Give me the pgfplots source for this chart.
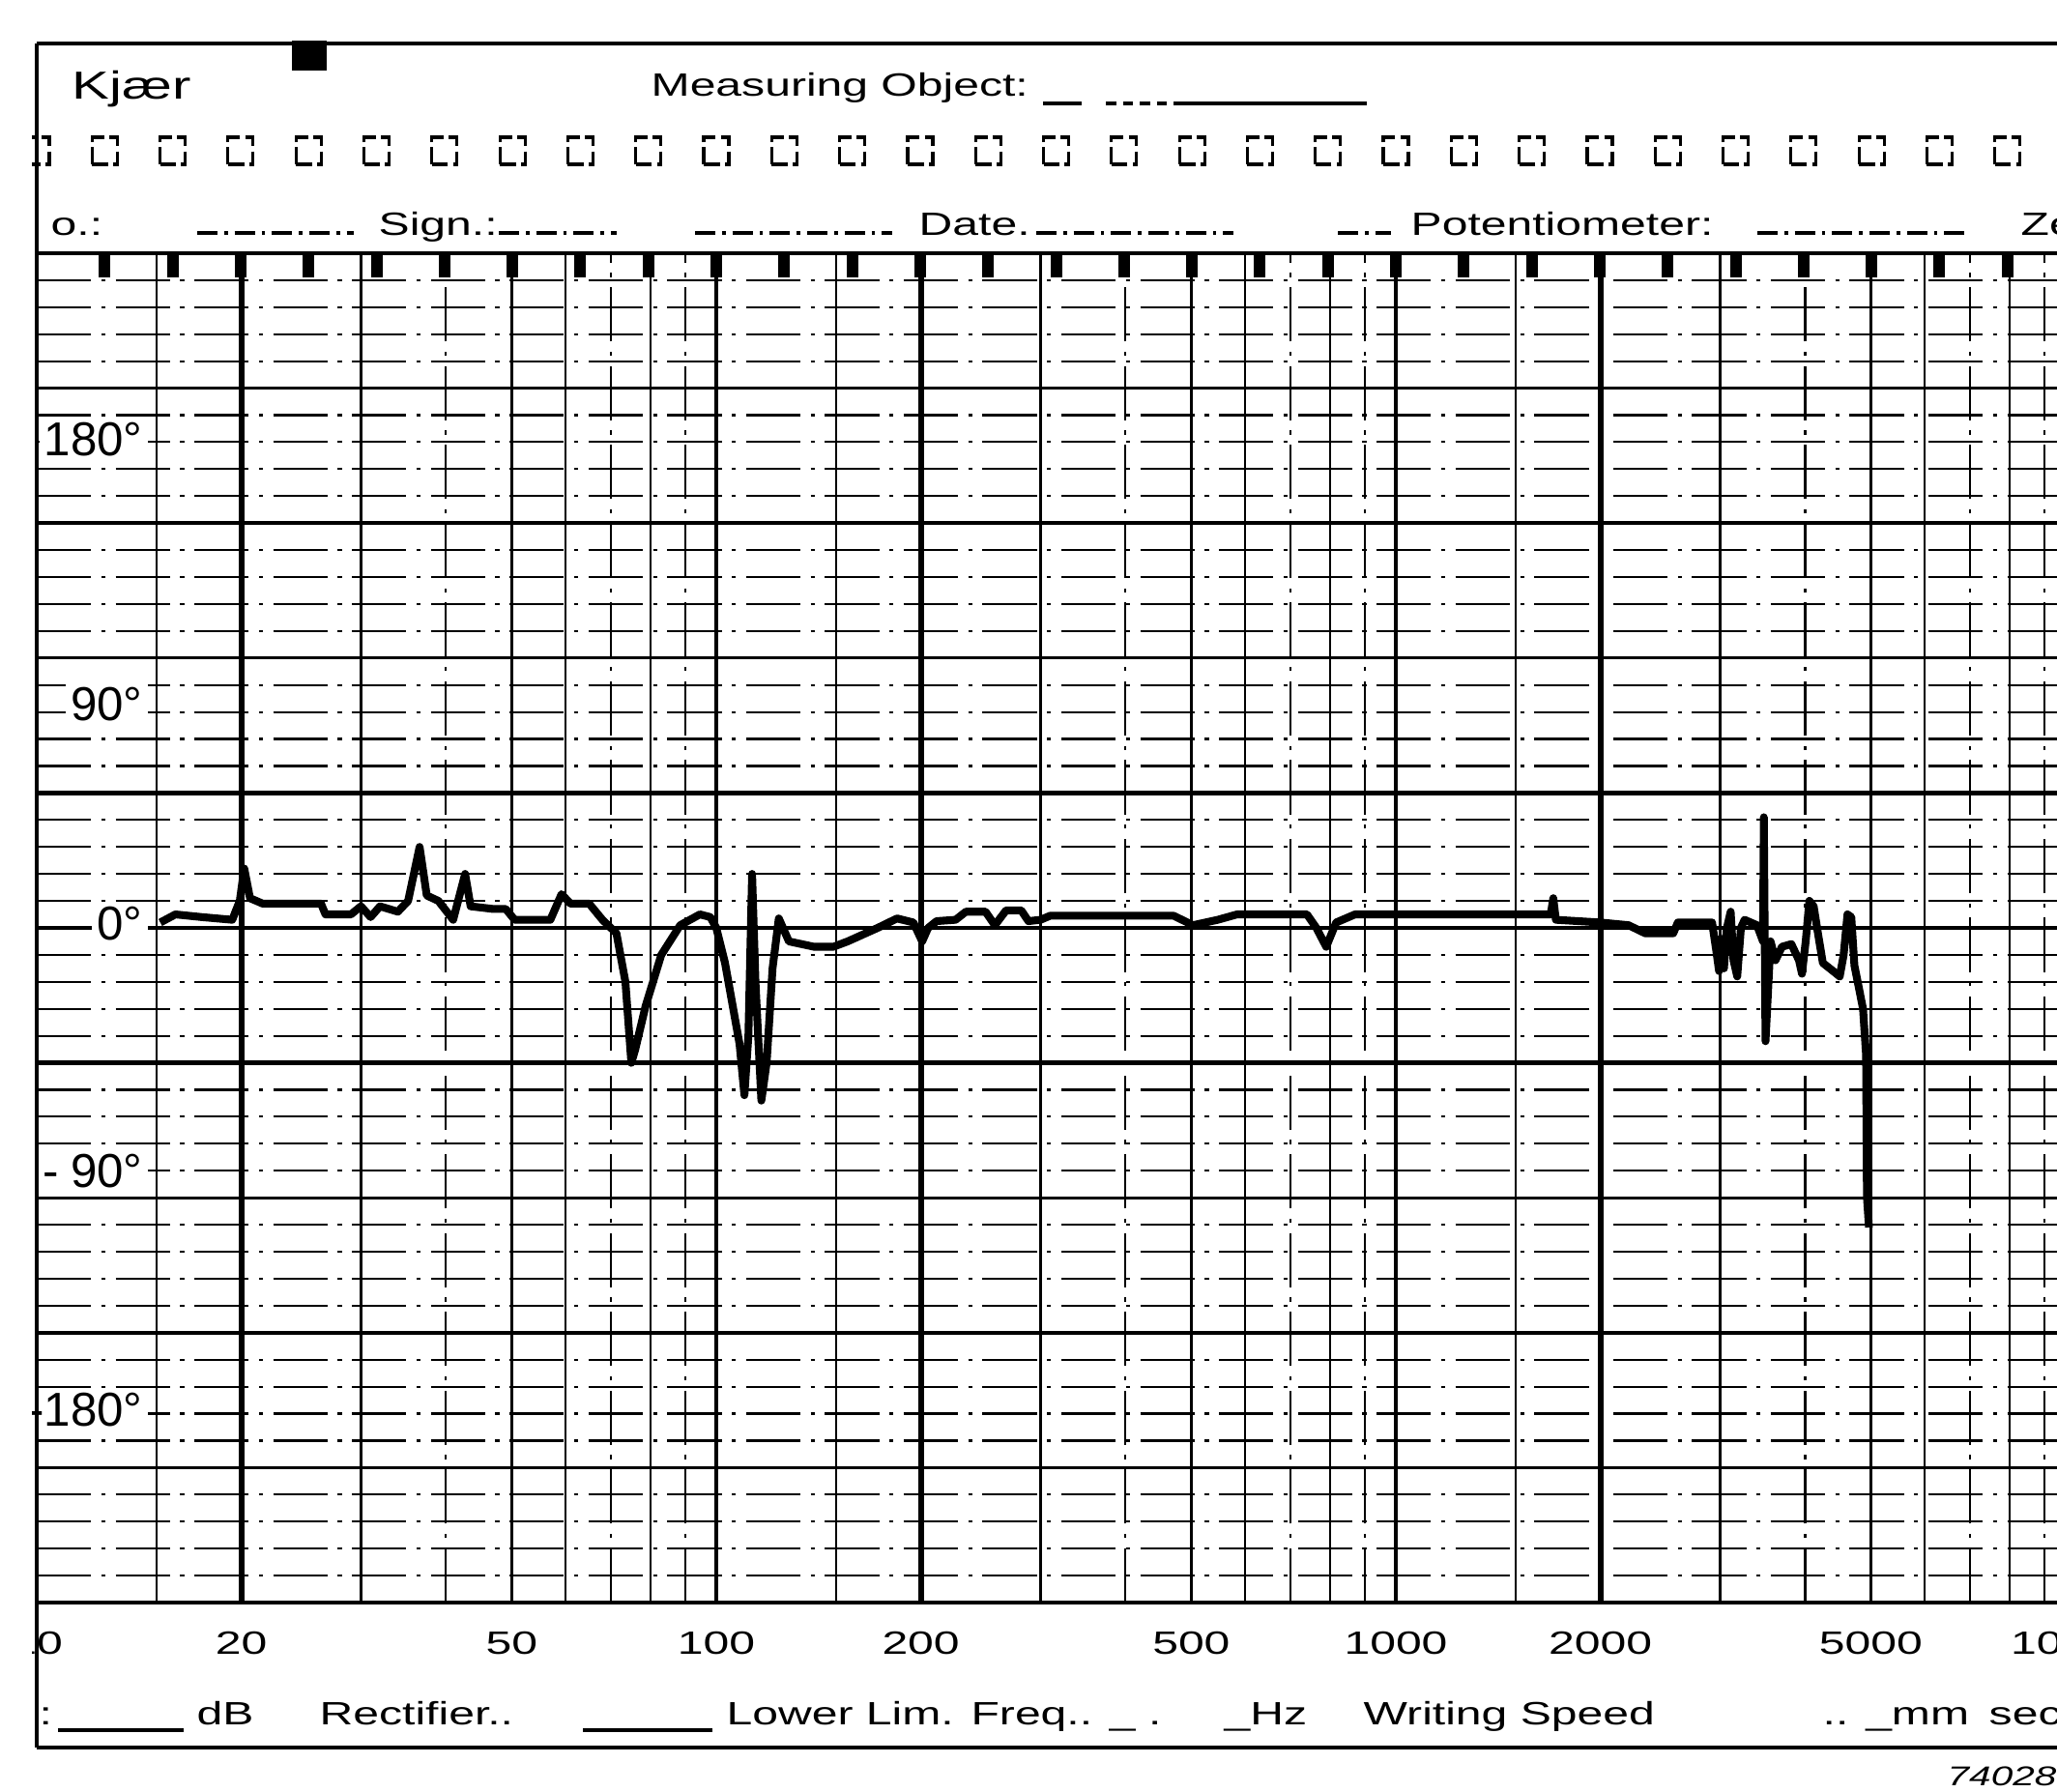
\documentclass[border=0pt]{standalone}
\usepackage{fontspec}
\setmainfont{Liberation Sans}[FakeStretch=1.44]
\newfontfamily\plainfont{Liberation Sans}
\usepackage{pgfplots}
\pgfplotsset{compat=1.18}
\begin{document}
\begin{tikzpicture}[x=1cm,y=1cm]
\useasboundingbox (0,0) rectangle (21.28,18.54);
\fill[white] (0,0) rectangle (21.28,18.54);
\begin{axis}[
  at={(0.38cm,1.96cm)}, anchor=south west, scale only axis,
  width=21.09cm, height=13.96cm,
  xmode=log, xmin=10, xmax=10000, ymin=-250, ymax=250,
  axis line style={line width=1.4pt},
  xtick={10,20,50,100,200,500,1000,2000,5000,10000},
  xticklabels={10,20,50,100,200,500,1000,2000,5000,10000},
  ytick=\empty, major tick length=0pt, minor tick length=0pt,
  xticklabel style={font=\fontsize{9.5}{10}\selectfont, anchor=center, yshift=-0.42cm},
  /pgf/number format/assume math mode=true,
  clip=false,
]
% minor horizontal grid (10 deg)
\pgfplotsinvokeforeach{-240,-230,-220,-210,-190,-180,-170,-160,-140,-130,-120,-110,-90,-80,-70,-60,-40,-30,-20,-10,10,20,30,40,60,70,80,90,110,120,130,140,160,170,180,190,210,220,230,240}{
  \draw[line width=0.6pt, dash pattern=on 16pt off 3pt on 1.2pt off 3pt] (axis cs:10,#1) -- (axis cs:10000,#1);
}
\pgfplotsinvokeforeach{0,100,-100,200,-200}{
  \draw[line width=0.9pt] (axis cs:10,#1) -- (axis cs:10000,#1);
}
\pgfplotsinvokeforeach{50,-50,150,-150}{
  \draw[line width=1.3pt] (axis cs:10,#1) -- (axis cs:10000,#1);
}
% vertical grid
\pgfplotsinvokeforeach{15,30,50,60,80,150,300,500,600,800,1500,3000,5000,6000,8000}{
  \draw[line width=0.7pt] (axis cs:#1,-250) -- (axis cs:#1,250);
}
\pgfplotsinvokeforeach{40,70,90,400,700,900,4000,7000,9000}{
  \draw[line width=0.7pt, dash pattern=on 16pt off 3pt on 1.2pt off 3pt] (axis cs:#1,-250) -- (axis cs:#1,250);
}
\pgfplotsinvokeforeach{100,1000}{
  \draw[line width=0.9pt] (axis cs:#1,-250) -- (axis cs:#1,250);
}
\pgfplotsinvokeforeach{20,200,2000}{
  \draw[line width=1.7pt] (axis cs:#1,-250) -- (axis cs:#1,250);
}
% phase labels
\begin{scope}[every node/.style={fill=white, inner sep=1.5pt, anchor=east, font=\plainfont\fontsize{14}{14}\selectfont}]
\node at (axis cs:14.6,181) {180°};
\node at (axis cs:14.6,83) {90°};
\node at (axis cs:14.6,1.5) {0°};
\node at (axis cs:14.6,-90) {-\hspace{0.12cm}90°};
\node at (axis cs:14.6,-178.5) {-180°};
\end{scope}
% measured phase response
\addplot[black, line width=2.3pt, line join=round] table {
15.2 2
16.0 5
17.5 4
19.4 3
19.9 10
20.2 22
20.6 11
21.5 9
26.2 9
26.6 5
29.0 5
30.0 8
31.0 4
32.0 8
34.0 6
35.2 10
36.6 30
37.5 12
39.0 10
41.0 3
42.7 20
43.5 8
47.0 7
49.0 7
50.5 3
57.0 3
59.2 12.5
61.0 9
65.0 9
68.0 3
71.3 -2
73.5 -20
75.0 -50
76.0 -45
78.7 -29
83.0 -10
88.5 1
94.6 5
98.0 4
100 0
103 -13
108.2 -43
110 -62
111.5 -40
112.9 20
114.2 -20
116.5 -64
118.6 -50
121 -15
123.6 3.5
127.9 -5
139.3 -7
148.7 -7
156.1 -5
172.8 0
184.5 3.5
195 2
200.9 -5
205 0
211 2.5
225 3
233 6
249 6
257 1
267 6.5
281 6.5
288 2.5
300 3
310 4.5
471 4.5
503 1
547 3
584 5
740 5
764 0
790 -7
817 2
871 5
1690 5
1705 11
1720 3
2000 2
2200 1
2328 -2
2560 -2
2600 2
2920 2
2960 -8
2990 -16
3010 -4
3040 -15
3070 0
3110 6
3140 -12
3180 -18
3220 0
3260 3
3400 1
3470 -5
3480 41
3500 -42
3560 -5
3620 -12
3700 -7
3820 -6
3920 -12
3960 -17
4010 -5
4060 10
4120 8
4180 -2
4250 -13
4400 -16
4500 -18
4560 -10
4620 5
4680 4
4730 -14
4800 -22
4870 -30
4920 -47
4935 -100
4969 -111
};
\end{axis}
% third-octave marks under the top grid line
\foreach \k in {1,...,30} {
  \fill (0.38+0.703*\k-0.06,15.92) rectangle ++(0.12,-0.25);
}
% header
\draw[line width=1.3pt] (0.38,18.09) -- (21.28,18.09);
\fill (3.02,18.12) rectangle (3.38,17.81);
\node[anchor=base west, inner sep=0, font=\fontsize{11.5}{12}\selectfont] at (0.74,17.51) {Kjær};
\node[anchor=base west, inner sep=0, font=\fontsize{9.5}{10}\selectfont] at (6.73,17.54) {Measuring Object:};
\draw[line width=0.9pt] (10.79,17.47) -- (11.19,17.47);
\draw[line width=0.9pt, dash pattern=on 3pt off 2pt] (11.44,17.47) -- (12.23,17.47);
\draw[line width=0.9pt] (12.23,17.47) -- (14.14,17.47);
\foreach \k in {0,...,30} {
  \draw[line width=0.9pt, dash pattern=on 5pt off 1.5pt] (0.38+0.703*\k-0.13,16.84) rectangle ++(0.26,0.28);
}
\begin{scope}[every node/.style={anchor=base west, inner sep=0, font=\fontsize{9.5}{10}\selectfont}]
\node at (0.52,16.10) {o.:};
\node at (3.91,16.10) {Sign.:};
\node at (9.50,16.10) {Date.};
\node at (14.59,16.10) {Potentiometer:};
\node at (20.90,16.10) {Ze};
\end{scope}
\begin{scope}[line width=0.9pt, dash pattern=on 6pt off 2pt on 1pt off 2pt]
\draw (2.04,16.13) -- (3.66,16.13);
\draw (5.16,16.13) -- (6.38,16.13);
\draw (7.19,16.13) -- (9.23,16.13);
\draw (10.72,16.13) -- (12.76,16.13);
\draw (13.84,16.13) -- (14.39,16.13);
\draw (18.18,16.13) -- (20.36,16.13);
\end{scope}
% footer
\begin{scope}[every node/.style={anchor=base west, inner sep=0, font=\fontsize{9.5}{10}\selectfont}]
\node at (0.40,0.69) {:};
\node at (2.03,0.69) {dB};
\node at (3.30,0.69) {Rectifier..};
\node at (7.51,0.69) {Lower Lim. Freq.. \_ .};
\node at (12.66,0.69) {\_Hz};
\node at (14.10,0.69) {Writing Speed};
\node at (18.85,0.69) {.. \_mm};
\node at (20.57,0.69) {sec};
\node[font=\itshape\fontsize{8}{9}\selectfont] at (20.14,0.06) {740280};
\end{scope}
\draw[line width=0.9pt] (0.60,0.64) -- (1.90,0.64);
\draw[line width=0.9pt] (6.03,0.64) -- (7.37,0.64);
\draw[line width=1.3pt] (0.38,0.46) -- (21.28,0.46);
% left paper edge
\fill[white] (0,0) rectangle (0.33,18.54);
\draw[line width=1.3pt] (0.38,0.46) -- (0.38,18.09);
\end{tikzpicture}
\end{document}
